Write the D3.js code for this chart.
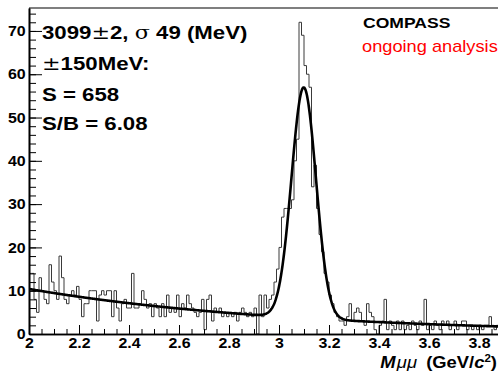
<!DOCTYPE html>
<html>
<head>
<meta charset="utf-8">
<script src="https://cdn.jsdelivr.net/npm/d3@7"></script>
<style>
  html, body { margin: 0; padding: 0; background: #fff; }
  svg { display: block; font-family: "Liberation Sans", Arial, Helvetica, sans-serif; }
</style>
</head>
<body>
<svg id="chart" width="498" height="374"></svg>
<script>
// Dimuon invariant mass histogram, 10 MeV bins starting at 2.00 GeV/c^2
const binStart = 2.0;
const binWidth = 0.01;
const counts = [
  14, 14, 8, 5, 13, 10, 8, 7, 16, 12,
  10, 8, 18, 13, 8, 7, 9, 10, 9, 11,
  8, 4, 7, 7, 10, 10, 10, 3, 9, 10,
  9, 10, 10, 4, 10, 6, 3, 7, 8, 6,
  6, 14, 6, 6, 7, 10, 8, 6, 7, 4,
  7, 6, 4, 7, 4, 9, 5, 6, 5, 9,
  4, 7, 6, 9, 7, 6, 5, 4, 5, 8,
  1, 8, 9, 3, 6, 5, 6, 4, 5, 4,
  5, 4, 5, 3, 5, 6, 5, 4, 5, 4,
  6, 0, 9, 4, 9, 6, 8, 9, 12, 15,
  20, 27, 29, 29, 29, 31, 40, 45, 72, 69,
  62, 60, 57, 34, 39, 29, 23, 19, 14, 12,
  9, 7, 5, 4, 3, 3, 2, 4, 7, 3,
  5, 6, 5, 3, 2, 7, 5, 4, 1, 0,
  2, 3, 8, 1, 3, 2, 1, 3, 1, 3,
  1, 2, 1, 3, 2, 1, 3, 2, 8, 1,
  2, 1, 3, 2, 1, 3, 2, 3, 1, 2,
  3, 1, 2, 3, 3, 1, 2, 1, 2, 1,
  2, 1, 2, 2, 4, 2, 1, 2, 1, 2
];

// Fit: Gaussian signal on an exponential background
const fitMean = 3.099;
const fitSigma = 0.049;
const fitAmplitude = 53.3;
const bgNorm = 10.4;
const bgSlope = -0.95;

// Axis ticks
const xMajorTicks = [2.0, 2.2, 2.4, 2.6, 2.8, 3.0, 3.2, 3.4, 3.6, 3.8];
const xTickLabels = ["2", "2.2", "2.4", "2.6", "2.8", "3", "3.2", "3.4", "3.6", "3.8"];
const yMajorTicks = [0, 10, 20, 30, 40, 50, 60, 70];
const yTickLabels = ["0", "10", "20", "30", "40", "50", "60", "70"];

// Text blocks
const fitLines = ["3099\u00b12, \u03c3 49 (MeV)", "\u00b1150MeV:", "S = 658", "S/B = 6.08"];
const experimentLabel = "COMPASS";
const statusLabel = "ongoing analysis";

const svg = d3.select("#chart");
const W = 498, H = 374;
const padLeft = 29, padTop = 8, axisY = 334;
const wide = 1.17; // horizontal stretch of the lettering

const x = d3.scaleLinear().domain([2.0, 3.9]).range([padLeft, padLeft + 1.9 * 250]);
const y = d3.scaleLinear().domain([0, 75.3]).range([axisY, padTop]);

svg.append("rect").attr("width", W).attr("height", H).attr("fill", "#fff");

svg.append("defs").append("clipPath").attr("id", "plotClip")
  .append("rect").attr("x", padLeft).attr("y", padTop - 1).attr("width", W - padLeft).attr("height", axisY - padTop + 1);

const plot = svg.append("g").attr("clip-path", "url(#plotClip)");

// Histogram outline
const bins = counts.map((c, i) => ({ lo: binStart + i * binWidth, c }));
const stepPts = bins.map(b => [b.lo, b.c]);
stepPts.push([binStart + counts.length * binWidth, counts[counts.length - 1]]);
plot.append("path")
  .attr("d", d3.line().x(d => x(d[0])).y(d => y(d[1])).curve(d3.curveStepAfter)(stepPts))
  .attr("fill", "none")
  .attr("stroke", "#3a3a3a")
  .attr("stroke-width", 1);

// Fit curve
const fitFn = m => bgNorm * Math.exp(bgSlope * (m - 2.0)) +
  fitAmplitude * Math.exp(-0.5 * Math.pow((m - fitMean) / fitSigma, 2));
const fitPts = d3.range(2.0, 3.9001, 0.002).map(m => [m, fitFn(m)]);
plot.append("path")
  .attr("d", d3.line().x(d => x(d[0])).y(d => y(d[1])).curve(d3.curveLinear)(fitPts))
  .attr("fill", "none")
  .attr("stroke", "#000")
  .attr("stroke-width", 2.6)
  .attr("stroke-linejoin", "round");

// Frame top line
svg.append("line").attr("x1", padLeft).attr("x2", W).attr("y1", padTop).attr("y2", padTop)
  .attr("stroke", "#555").attr("stroke-width", 1.5);

// Y axis
const yMinor = svg.append("g").attr("transform", `translate(${padLeft},0)`)
  .call(d3.axisLeft(y).tickValues(d3.range(0, 75, 2)).tickSizeInner(-7).tickSizeOuter(0).tickFormat(""));
const yAxis = svg.append("g").attr("transform", `translate(${padLeft},0)`)
  .call(d3.axisLeft(y).tickValues(yMajorTicks).tickSizeInner(-13).tickSizeOuter(0).tickPadding(3)
    .tickFormat((d, i) => yTickLabels[i]));

// X axis
const xMinor = svg.append("g").attr("transform", `translate(0,${axisY})`)
  .call(d3.axisBottom(x).tickValues(d3.range(2.0, 3.9, 0.05)).tickSizeInner(-5).tickSizeOuter(0).tickFormat(""));
const xAxis = svg.append("g").attr("transform", `translate(0,${axisY})`)
  .call(d3.axisBottom(x).tickValues(xMajorTicks).tickSizeInner(-9).tickSizeOuter(0).tickPadding(4)
    .tickFormat((d, i) => xTickLabels[i]));

[yMinor, yAxis, xMinor, xAxis].forEach(g => {
  g.select(".domain").attr("stroke", "#000").attr("stroke-width", 1.6);
  g.selectAll(".tick line").attr("stroke", "#000").attr("stroke-width", 1);
  g.selectAll(".tick text").attr("fill", "#000")
    .attr("transform", "scale(1.1,1)")
    .style("font-family", '"Liberation Sans", Arial, sans-serif')
    .style("font-weight", "bold").style("font-size", "14.5px");
});

// Fit summary text
const fitText = svg.append("g").attr("font-size", 19).attr("font-weight", "bold").attr("fill", "#000");
const baselines = [39, 70, 101, 130];
fitLines.forEach((line, i) => {
  const t = fitText.append("text").attr("transform", `translate(42,${baselines[i]}) scale(${wide},1)`);
  // symbols drawn in regular weight, digits and letters bold
  const parts = line.split(/([\u00b1\u03c3])/).filter(s => s.length);
  parts.forEach(p => {
    const ts = t.append("tspan").text(p);
    if (p === "\u00b1" || p === "\u03c3") ts.attr("font-weight", "normal").attr("font-family", '"DejaVu Serif", serif');
  });
});

// Experiment label
svg.append("text").attr("transform", `translate(363,28) scale(${wide},1)`)
  .attr("font-size", 15).attr("font-weight", "bold").attr("fill", "#000").text(experimentLabel);
svg.append("text").attr("transform", `translate(362,52) scale(1.14,1)`)
  .attr("font-size", 16).attr("fill", "#ff0000").text(statusLabel);

// X axis title
const title = svg.append("text").attr("transform", `translate(497,368) scale(1.15,1)`).attr("text-anchor", "end")
  .attr("font-size", 16).attr("font-weight", "bold").attr("fill", "#000");
title.append("tspan").attr("font-style", "italic").text("M");
title.append("tspan").attr("font-style", "italic").attr("font-weight", "normal").attr("dx", 1).text("\u03bc\u03bc");
title.append("tspan").attr("dx", 8).text("(GeV/");
title.append("tspan").attr("font-style", "italic").text("c");
title.append("tspan").attr("font-size", 10).attr("dy", -6).text("2");
title.append("tspan").attr("dy", 6).text(")");
</script>
</body>
</html>
